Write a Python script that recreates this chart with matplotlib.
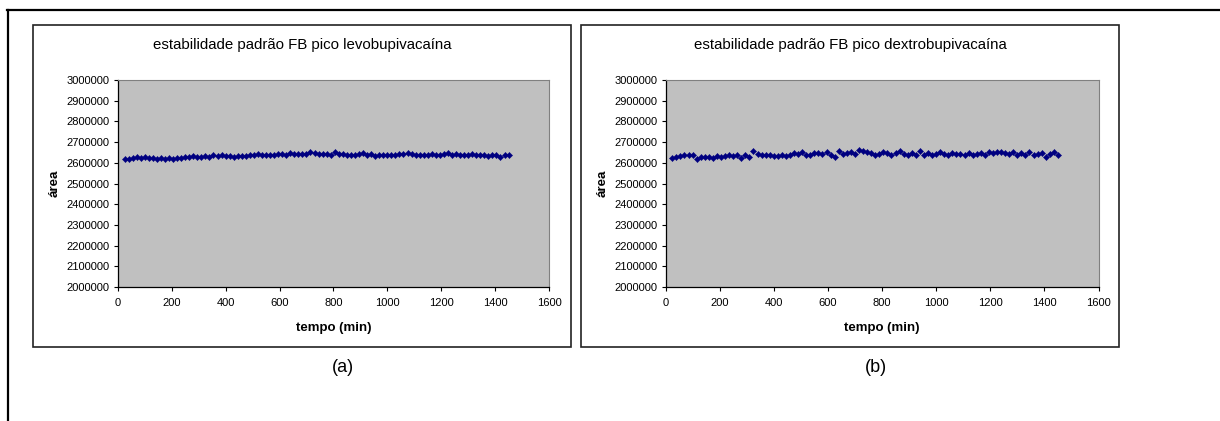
import numpy as np
import matplotlib.pyplot as plt
from matplotlib.patches import Rectangle
from matplotlib.lines import Line2D

plt.rcParams['font.family'] = ['Liberation Sans', 'DejaVu Sans']

# tempo de coleta (min)
tempo = [25, 40, 55, 70, 85, 100, 115, 130, 145, 160,
         175, 190, 205, 220, 235, 250, 265, 280, 295, 310,
         325, 340, 355, 370, 385, 400, 415, 430, 445, 460,
         475, 490, 505, 520, 535, 550, 565, 580, 595, 610,
         625, 640, 655, 670, 685, 700, 715, 730, 745, 760,
         775, 790, 805, 820, 835, 850, 865, 880, 895, 910,
         925, 940, 955, 970, 985, 1000, 1015, 1030, 1045, 1060,
         1075, 1090, 1105, 1120, 1135, 1150, 1165, 1180, 1195, 1210,
         1225, 1240, 1255, 1270, 1285, 1300, 1315, 1330, 1345, 1360,
         1375, 1390, 1405, 1420, 1435, 1450]

# área do pico (x1000)
area_levo = [2616, 2620, 2622, 2626, 2624, 2628, 2624, 2622, 2618, 2622,
             2620, 2624, 2616, 2622, 2624, 2628, 2626, 2632, 2626, 2630,
             2632, 2628, 2638, 2634, 2636, 2632, 2634, 2630, 2632, 2634,
             2632, 2638, 2640, 2642, 2638, 2640, 2636, 2640, 2642, 2644,
             2640, 2646, 2642, 2644, 2642, 2644, 2654, 2646, 2644, 2644,
             2642, 2640, 2650, 2644, 2644, 2640, 2636, 2640, 2642, 2646,
             2638, 2644, 2634, 2636, 2636, 2638, 2636, 2640, 2642, 2642,
             2646, 2644, 2638, 2638, 2638, 2640, 2642, 2640, 2638, 2644,
             2646, 2640, 2642, 2640, 2636, 2640, 2644, 2636, 2638, 2640,
             2634, 2636, 2640, 2628, 2638, 2636]

area_dextro = [2622, 2628, 2632, 2636, 2638, 2640, 2616, 2628, 2626, 2630,
               2624, 2632, 2630, 2634, 2640, 2632, 2636, 2624, 2636, 2630,
               2656, 2644, 2640, 2638, 2640, 2634, 2632, 2638, 2632, 2640,
               2646, 2644, 2650, 2640, 2636, 2646, 2648, 2642, 2650, 2636,
               2628, 2656, 2644, 2646, 2650, 2644, 2664, 2658, 2654, 2648,
               2640, 2642, 2652, 2646, 2640, 2648, 2656, 2644, 2640, 2646,
               2636, 2658, 2640, 2646, 2636, 2644, 2650, 2642, 2640, 2648,
               2644, 2642, 2636, 2646, 2640, 2644, 2648, 2640, 2652, 2646,
               2654, 2650, 2648, 2644, 2652, 2640, 2646, 2638, 2650, 2636,
               2644, 2648, 2630, 2644, 2652, 2638]

titulos = ["estabilidade padrão FB pico levobupivacaína",
           "estabilidade padrão FB pico dextrobupivacaína"]
rotulos = ["(a)", "(b)"]

W, H = 1220, 421
fig = plt.figure(figsize=(W / 100, H / 100), dpi=100)


def fx(px):
    return px / W


def fy(py):
    return 1 - py / H


# moldura externa (topo e lateral esquerda)
fig.add_artist(Line2D([fx(7), fx(1220)], [fy(10), fy(10)], color='black', lw=1.6))
fig.add_artist(Line2D([fx(8), fx(8)], [fy(10), fy(421)], color='black', lw=1.6))

paineis = [
    dict(box=(33, 25, 571, 347), plot=(117.8, 80, 549, 287), txt=343),
    dict(box=(581, 25, 1119, 347), plot=(665.5, 80, 1098.5, 287), txt=876),
]

for k, (p, serie) in enumerate(zip(paineis, [area_levo, area_dextro])):
    bx0, by0, bx1, by1 = p['box']
    fig.add_artist(Rectangle((fx(bx0), fy(by1)), fx(bx1 - bx0), (by1 - by0) / H,
                             fill=False, edgecolor='#222222', lw=1.2))
    px0, py0, px1, py1 = p['plot']
    ax = fig.add_axes([fx(px0), fy(py1), fx(px1 - px0), (py1 - py0) / H])
    ax.set_facecolor('#C0C0C0')
    ax.scatter(tempo, np.array(serie) * 1000, marker='D', s=10, color='#000080',
               edgecolors='#000080', linewidths=0.3, zorder=3)
    ax.set_xlim(0, 1600)
    ax.set_ylim(2000000, 3000000)
    ax.set_xticks(range(0, 1601, 200))
    ax.set_yticks(range(2000000, 3000001, 100000))
    ax.yaxis.set_major_formatter(plt.FuncFormatter(lambda v, _: f"{int(v)}"))
    ax.tick_params(direction='out', length=3, width=0.8, labelsize=8, pad=3,
                   colors='black')
    ax.tick_params(axis='x', pad=5)
    for s in ['top', 'right']:
        ax.spines[s].set_color('#808080')
        ax.spines[s].set_linewidth(0.8)
    for s in ['left', 'bottom']:
        ax.spines[s].set_color('black')
        ax.spines[s].set_linewidth(0.9)
    ax.set_xlabel("tempo (min)", fontsize=9.5, fontweight='bold', labelpad=10)
    ax.set_ylabel("área", fontsize=9.5, fontweight='bold', labelpad=4)

    fig.text(fx((bx0 + bx1) / 2), fy(45), titulos[k], ha='center', va='center',
             fontsize=10.8)
    fig.text(fx(p['txt']), fy(368), rotulos[k], ha='center', va='center',
             fontsize=13)

fig.savefig("out.png", dpi=100)
